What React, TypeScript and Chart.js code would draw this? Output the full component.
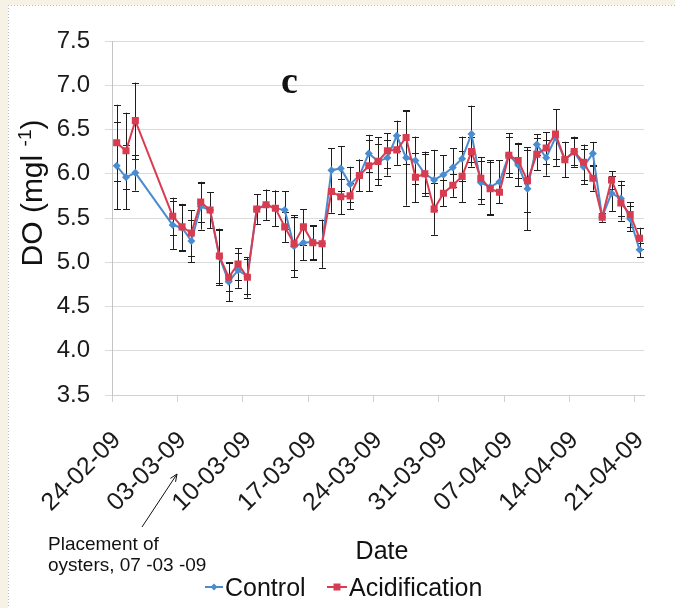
import React, { useEffect, useRef } from "react";
import { Chart, registerables } from "chart.js";

Chart.register(...registerables);

// Day offsets from 24-02-09
const days = [0, 1, 2, 6, 7, 8, 9, 10, 11, 12, 13, 14, 15, 16, 17, 18, 19, 20, 21, 22, 23, 24, 25, 26, 27, 28, 29, 30, 31, 32, 33, 34, 35, 36, 37, 38, 39, 40, 41, 42, 43, 44, 45, 46, 47, 48, 49, 50, 51, 52, 53, 54, 55, 56];

const controlDO = [6.09, 5.96, 6.01, 5.42, 5.39, 5.24, 5.63, 5.59, 5.06, 4.78, 4.91, 4.84, 5.60, 5.65, 5.61, 5.59, 5.18, 5.22, 5.23, 5.21, 6.04, 6.06, 5.88, 5.98, 6.23, 6.14, 6.18, 6.43, 6.18, 6.15, 6.00, 5.93, 5.99, 6.07, 6.17, 6.45, 5.90, 5.85, 5.91, 6.21, 6.10, 5.83, 6.33, 6.18, 6.41, 6.16, 6.25, 6.08, 6.23, 5.51, 5.78, 5.72, 5.49, 5.14];
const controlErr = [0.49, 0.36, 0.20, 0.27, 0.26, 0.24, 0.26, 0.20, 0.32, 0.22, 0.20, 0.20, 0.17, 0.17, 0.20, 0.21, 0.35, 0.20, 0.19, 0.27, 0.25, 0.25, 0.20, 0.18, 0.21, 0.27, 0.20, 0.17, 0.54, 0.27, 0.25, 0.34, 0.22, 0.22, 0.25, 0.32, 0.24, 0.30, 0.24, 0.25, 0.24, 0.47, 0.12, 0.20, 0.32, 0.20, 0.17, 0.20, 0.13, 0.05, 0.20, 0.20, 0.14, 0.08];

const acidDO = [6.35, 6.26, 6.60, 5.52, 5.40, 5.33, 5.68, 5.59, 5.07, 4.83, 4.98, 4.83, 5.60, 5.65, 5.61, 5.40, 5.21, 5.40, 5.22, 5.21, 5.80, 5.74, 5.75, 5.98, 6.09, 6.14, 6.26, 6.27, 6.41, 5.96, 6.00, 5.60, 5.78, 5.87, 5.97, 6.25, 5.95, 5.83, 5.79, 6.21, 6.15, 5.92, 6.22, 6.29, 6.45, 6.16, 6.25, 6.13, 5.95, 5.51, 5.93, 5.67, 5.54, 5.27];
const acidErr = [0.43, 0.43, 0.43, 0.21, 0.26, 0.26, 0.23, 0.20, 0.30, 0.16, 0.18, 0.23, 0.17, 0.17, 0.20, 0.17, 0.30, 0.20, 0.19, 0.27, 0.24, 0.20, 0.15, 0.18, 0.29, 0.20, 0.20, 0.17, 0.30, 0.28, 0.22, 0.29, 0.15, 0.13, 0.29, 0.17, 0.24, 0.30, 0.12, 0.20, 0.20, 0.35, 0.18, 0.18, 0.28, 0.20, 0.15, 0.20, 0.14, 0.05, 0.10, 0.20, 0.14, 0.12];

const xTickLabels = ["24-02-09", "03-03-09", "10-03-09", "17-03-09", "24-03-09", "31-03-09", "07-04-09", "14-04-09", "21-04-09"];

const CONTROL_COLOR = "#4a8cd0";
const ACID_COLOR = "#d83c50";
const FONT = "'Liberation Sans', Arial, sans-serif";

const errorBarPlugin = {
  id: "errorBars",
  beforeDatasetsDraw(chart: any) {
    const ctx = chart.ctx;
    const yScale = chart.scales.y;
    ctx.save();
    ctx.strokeStyle = "#1e1e1e";
    ctx.lineWidth = 1;
    chart.data.datasets.forEach((ds: any, di: number) => {
      const meta = chart.getDatasetMeta(di);
      const errs: number[] = ds.errors;
      meta.data.forEach((pt: any, i: number) => {
        const v = ds.data[i].y;
        const e = errs[i];
        const x = Math.round(pt.x) + 0.5;
        const yt = yScale.getPixelForValue(v + e);
        const yb = yScale.getPixelForValue(v - e);
        ctx.beginPath();
        ctx.moveTo(x, yt);
        ctx.lineTo(x, yb);
        ctx.moveTo(x - 3.5, Math.round(yt) + 0.5);
        ctx.lineTo(x + 3.5, Math.round(yt) + 0.5);
        ctx.moveTo(x - 3.5, Math.round(yb) + 0.5);
        ctx.lineTo(x + 3.5, Math.round(yb) + 0.5);
        ctx.stroke();
      });
    });
    ctx.restore();
  },
};

const framePlugin = {
  id: "frame",
  beforeDraw(chart: any) {
    const ctx = chart.ctx;
    ctx.save();
    ctx.fillStyle = "#f7f2e6";
    ctx.fillRect(0, 0, 8, chart.height);
    ctx.fillRect(0, 0, chart.width, 5);
    ctx.strokeStyle = "#b8b8b8";
    ctx.setLineDash([1, 2]);
    ctx.beginPath();
    ctx.moveTo(8.5, 5);
    ctx.lineTo(8.5, chart.height);
    ctx.moveTo(8, 5.5);
    ctx.lineTo(chart.width, 5.5);
    ctx.stroke();
    ctx.restore();
  },
};

function drawMarker(ctx: CanvasRenderingContext2D, kind: string, x: number, y: number, color: string) {
  ctx.fillStyle = color;
  ctx.beginPath();
  if (kind === "diamond") {
    ctx.moveTo(x, y - 3.5);
    ctx.lineTo(x + 3.5, y);
    ctx.lineTo(x, y + 3.5);
    ctx.lineTo(x - 3.5, y);
    ctx.closePath();
  } else {
    ctx.rect(x - 3.5, y - 3.5, 7, 7);
  }
  ctx.fill();
}

const annotationPlugin = {
  id: "annotations",
  afterDraw(chart: any) {
    const ctx = chart.ctx;
    ctx.save();
    ctx.fillStyle = "#111";
    // panel label
    ctx.font = "bold 38px 'Liberation Serif', serif";
    ctx.textBaseline = "alphabetic";
    ctx.textAlign = "left";
    ctx.fillText("c", 281, 93);

    // y-axis title with superscript
    ctx.save();
    ctx.translate(42, 193);
    ctx.rotate(-Math.PI / 2);
    const big = `30px ${FONT}`;
    const small = `19px ${FONT}`;
    const p1 = "DO (mgl ";
    const p2 = "-1";
    const p3 = ")";
    ctx.font = big;
    const w1 = ctx.measureText(p1).width;
    const w3 = ctx.measureText(p3).width;
    ctx.font = small;
    const w2 = ctx.measureText(p2).width;
    const total = w1 + w2 + w3;
    const sx = -total / 2;
    ctx.font = big;
    ctx.fillText(p1, sx, 0);
    ctx.font = small;
    ctx.fillText(p2, sx + w1, -11);
    ctx.font = big;
    ctx.fillText(p3, sx + w1 + w2, 0);
    ctx.restore();

    // x-axis title
    ctx.font = `25px ${FONT}`;
    ctx.textAlign = "center";
    ctx.fillText("Date", 382, 559);

    // placement note
    ctx.textAlign = "left";
    ctx.font = `19px ${FONT}`;
    ctx.fillText("Placement of", 48, 550);
    ctx.fillText("oysters, 07 -03 -09", 48, 571);

    // arrow
    const x0 = 142, y0 = 527, x1 = 177, y1 = 474;
    ctx.strokeStyle = "#111";
    ctx.lineWidth = 1;
    ctx.beginPath();
    ctx.moveTo(x0, y0);
    ctx.lineTo(x1, y1);
    ctx.stroke();
    const ang = Math.atan2(y1 - y0, x1 - x0);
    ctx.beginPath();
    ctx.moveTo(x1, y1);
    ctx.lineTo(x1 - 8 * Math.cos(ang - 0.4), y1 - 8 * Math.sin(ang - 0.4));
    ctx.moveTo(x1, y1);
    ctx.lineTo(x1 - 8 * Math.cos(ang + 0.4), y1 - 8 * Math.sin(ang + 0.4));
    ctx.stroke();

    // legend
    const ly = 587;
    ctx.lineWidth = 2;
    ctx.strokeStyle = CONTROL_COLOR;
    ctx.beginPath();
    ctx.moveTo(205, ly);
    ctx.lineTo(223, ly);
    ctx.stroke();
    drawMarker(ctx, "diamond", 214, ly, CONTROL_COLOR);
    ctx.strokeStyle = ACID_COLOR;
    ctx.beginPath();
    ctx.moveTo(327, ly);
    ctx.lineTo(347, ly);
    ctx.stroke();
    drawMarker(ctx, "square", 337, ly, ACID_COLOR);
    ctx.fillStyle = "#111";
    ctx.font = `25px ${FONT}`;
    ctx.fillText("Control", 225, 596);
    ctx.fillText("Acidification", 349, 596);
    ctx.restore();
  },
};

export default function App() {
  const ref = useRef<HTMLCanvasElement | null>(null);

  useEffect(() => {
    if (!ref.current) return;
    Chart.defaults.font.family = FONT;
    Chart.defaults.color = "#1a1a1a";
    const chart = new Chart(ref.current, {
      type: "line",
      data: {
        datasets: [
          {
            label: "Control",
            data: days.map((d, i) => ({ x: d + 0.5, y: controlDO[i] })),
            errors: controlErr,
            borderColor: CONTROL_COLOR,
            backgroundColor: CONTROL_COLOR,
            borderWidth: 2,
            pointStyle: "rectRot",
            pointRadius: 4,
            pointBorderWidth: 0,
            order: 1,
          } as any,
          {
            label: "Acidification",
            data: days.map((d, i) => ({ x: d + 0.5, y: acidDO[i] })),
            errors: acidErr,
            borderColor: ACID_COLOR,
            backgroundColor: ACID_COLOR,
            borderWidth: 2,
            pointStyle: "rect",
            pointRadius: 5,
            pointBorderWidth: 0,
            order: 0,
          } as any,
        ],
      },
      options: {
        animation: false,
        responsive: false,
        devicePixelRatio: 1,
        layout: { padding: { left: 0, top: 41, right: 30, bottom: 0 } },
        plugins: {
          legend: { display: false },
          tooltip: { enabled: false },
        },
        scales: {
          x: {
            type: "linear",
            min: 0,
            max: 57,
            grid: { drawOnChartArea: false, drawTicks: true, tickLength: 7, color: "#d0d0d0" },
            border: { color: "#d0d0d0" },
            ticks: {
              stepSize: 7,
              includeBounds: false,
              autoSkip: false,
              maxRotation: 45,
              minRotation: 45,
              padding: 29,
              labelOffset: 5,
              font: { size: 25, lineHeight: 0.6 },
              callback: (v: any) => xTickLabels[Math.round(Number(v) / 7)] ?? "",
            },
            afterFit: (s: any) => {
              s.height = 213;
            },
          },
          y: {
            min: 3.5,
            max: 7.5,
            grid: { color: "#dadada", tickLength: 7 },
            border: { color: "#c4c4c4" },
            ticks: {
              stepSize: 0.5,
              padding: 15,
              font: { size: 24 },
              callback: (v: any) => Number(v).toFixed(1),
            },
            afterFit: (s: any) => {
              s.width = 112;
            },
          },
        },
      } as any,
      plugins: [framePlugin, errorBarPlugin, annotationPlugin],
    });
    return () => chart.destroy();
  }, []);

  return (
    <div style={{ position: "fixed", left: 0, top: 0, width: 675, height: 608, background: "#fff" }}>
      <canvas ref={ref} width={675} height={608} style={{ display: "block", width: 675, height: 608 }} />
    </div>
  );
}
